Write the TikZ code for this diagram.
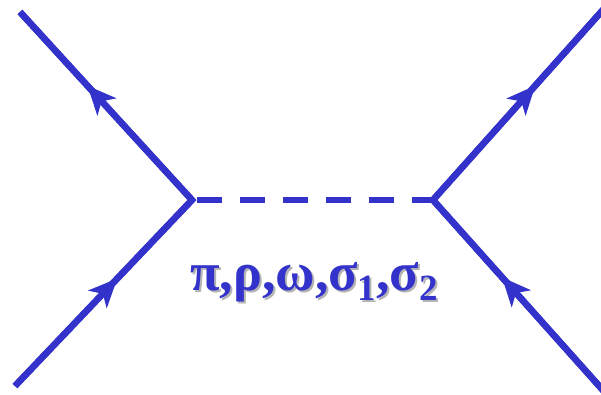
\documentclass[tikz,border=0pt]{standalone}
\usepackage{fontspec}
\setmainfont{Liberation Serif}
\usetikzlibrary{decorations.markings}
\definecolor{fblue}{RGB}{51,51,204}
\definecolor{shadowgray}{RGB}{180,180,180}
\tikzset{
  fermion/.style={draw=fblue, line width=6.5pt, line join=miter},
  flowarrow/.style={fermion, postaction={decorate},
    decoration={markings, mark=at position #1 with {\fill[fblue] (2pt,0pt) -- (-27pt,13pt) -- (-19pt,0pt) -- (-27pt,-13pt) -- cycle;}}},
  meson/.style={draw=fblue, line width=6pt, dash pattern=on 25pt off 18pt},
  labeltext/.style={font=\bfseries\fontsize{54}{54}\selectfont, inner sep=0pt, anchor=base},
}
\newcommand{\lowsub}[1]{\raisebox{-10pt}{\fontsize{37}{37}\selectfont #1}}
\begin{document}
\begin{tikzpicture}[x=1pt,y=-1pt]
\useasboundingbox (0,0) rectangle (601,395);
\clip (0,0) rectangle (601,395);
\coordinate (L) at (192,200);
\coordinate (R) at (433,200);
\coordinate (TL) at (20,12);
\coordinate (BL) at (15,386);
\coordinate (TR) at (610,2);
\coordinate (BR) at (609,397);
% external lines with sharp vertices
\draw[fermion] (TL) -- (L) -- (BL);
\draw[fermion] (TR) -- (R) -- (BR);
% arrows
\draw[flowarrow=0.6] (L) -- (TL);
\draw[flowarrow=0.57] (BL) -- (L);
\draw[flowarrow=0.57] (R) -- (TR);
\draw[flowarrow=0.6] (BR) -- (R);
% exchanged meson
\draw[meson] ([xshift=5pt]L) -- (R);
% label with shadow
\node[labeltext, text=shadowgray] (lblshadow) at (316,292) {π,ρ,ω,σ\lowsub{1},σ\lowsub{2}};
\node[labeltext, text=fblue] (lbl) at (314,290) {π,ρ,ω,σ\lowsub{1},σ\lowsub{2}};
\end{tikzpicture}
\end{document}
